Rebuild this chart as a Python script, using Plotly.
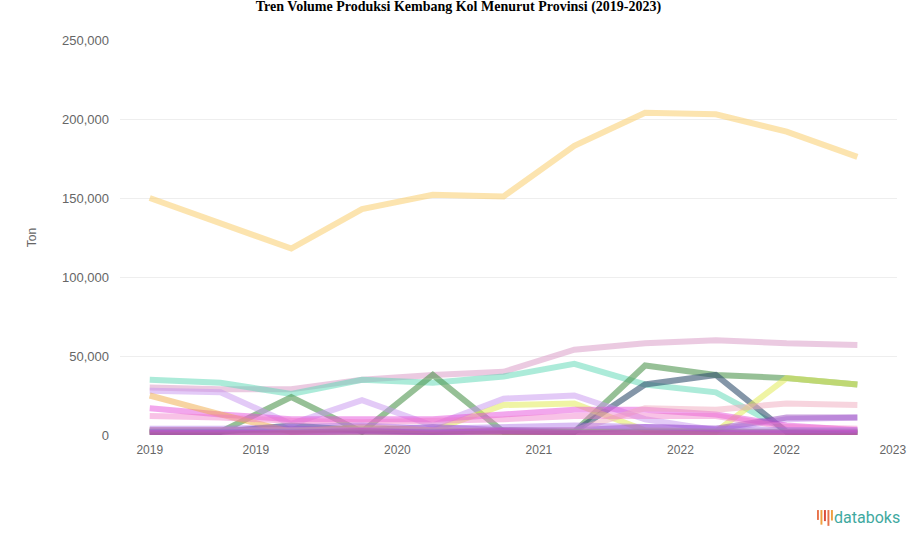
import plotly.graph_objects as go

# ---- data ----
periode = list(range(11))
tick_pos = [0, 1.5, 3.5, 5.5, 7.5, 9, 10.5]
tick_labels = ["2019", "2019", "2020", "2021", "2022", "2022", "2023"]
y_ticks = [0, 50000, 100000, 150000, 200000, 250000]

jawa_barat = [150000, 134000, 118000, 143000, 152000, 151000, 183000, 204000, 203000, 192000, 176000]
sumatera_utara = [30000, 29000, 29000, 35000, 38000, 40000, 54000, 58000, 60000, 58000, 57000]
jawa_tengah = [35000, 33000, 26000, 35000, 33000, 37000, 45000, 32000, 27000, 3000, 2000]
jawa_timur = [2000, 2000, 24000, 2000, 38000, 2000, 2000, 44000, 38000, 36000, 32000]
sumatera_barat = [2000, 2000, 6000, 3000, 2000, 3000, 2000, 32000, 38000, 2000, 1000]
bengkulu = [3000, 3000, 3000, 4000, 3000, 19000, 20000, 3000, 2000, 36000, 32000]
sulawesi_selatan = [28000, 27000, 7000, 22000, 6000, 23000, 25000, 10000, 3000, 10000, 11000]
bali = [17000, 13000, 10000, 10000, 10000, 13000, 16000, 16000, 13000, 6000, 3000]
jambi = [3000, 3000, 4000, 3000, 5000, 3000, 3000, 5000, 4000, 11000, 11000]
aceh = [25000, 13000, 2000, 5000, 3000, 2000, 2000, 2000, 2000, 2000, 2000]
ntt = [3000, 3000, 3000, 3000, 3000, 3000, 3000, 17000, 16000, 20000, 19000]
sulawesi_utara = [1000, 1000, 1000, 1000, 1000, 1000, 1000, 1000, 1000, 1000, 1000]
lampung = [2000, 2000, 2000, 2000, 2000, 2000, 2000, 2000, 2000, 2000, 2000]
sumatera_selatan = [12000, 11000, 9000, 8000, 9000, 10000, 12000, 12000, 12000, 5000, 4000]
papua = [4000, 4000, 5000, 6000, 4000, 5000, 6000, 5000, 4000, 3000, 3000]
ntb = [1500, 1500, 1500, 2500, 1500, 2500, 1500, 1500, 1500, 1500, 1500]

series = [
    ("Jawa Barat", jawa_barat, "rgba(250,205,110,0.55)"),
    ("Sumatera Utara", sumatera_utara, "rgba(215,150,195,0.5)"),
    ("Jawa Tengah", jawa_tengah, "rgba(90,215,180,0.5)"),
    ("Jawa Timur", jawa_timur, "rgba(80,150,80,0.6)"),
    ("Sumatera Barat", sumatera_barat, "rgba(50,80,110,0.6)"),
    ("Bengkulu", bengkulu, "rgba(225,235,90,0.55)"),
    ("Sulawesi Selatan", sulawesi_selatan, "rgba(200,150,240,0.5)"),
    ("Bali", bali, "rgba(230,80,220,0.5)"),
    ("Jambi", jambi, "rgba(150,70,190,0.5)"),
    ("Aceh", aceh, "rgba(240,170,70,0.5)"),
    ("Nusa Tenggara Timur", ntt, "rgba(240,170,190,0.5)"),
    ("Sulawesi Utara", sulawesi_utara, "rgba(220,50,90,0.5)"),
    ("Lampung", lampung, "rgba(110,150,180,0.5)"),
    ("Sumatera Selatan", sumatera_selatan, "rgba(240,120,200,0.45)"),
    ("Papua", papua, "rgba(170,110,230,0.45)"),
    ("Nusa Tenggara Barat", ntb, "rgba(200,60,200,0.45)"),
]

fig = go.Figure()
for name, vals, col in series:
    fig.add_trace(go.Scatter(x=periode, y=vals, name=name, mode="lines",
                             line=dict(color=col, width=6), showlegend=False))

fig.update_layout(
    width=917, height=547,
    paper_bgcolor="white", plot_bgcolor="white",
    margin=dict(l=120, r=20, t=40, b=112),
    title=dict(text="<b>Tren Volume Produksi Kembang Kol Menurut Provinsi (2019-2023)</b>",
               x=0.5, xanchor="center", y=0.998, yanchor="top",
               font=dict(family="Liberation Serif", size=14, color="black")),
    xaxis=dict(range=[-0.42, 10.56], tickmode="array", tickvals=tick_pos, ticktext=tick_labels,
               showgrid=False, zeroline=False, showline=False, ticklabelstandoff=6,
               tickfont=dict(family="Liberation Sans", size=12, color="#666")),
    yaxis=dict(range=[0, 250000], tickmode="array", tickvals=y_ticks, tickformat=",",
               showgrid=True, gridcolor="#eeeeee", zeroline=False,
               title=dict(text="Ton", font=dict(family="Liberation Sans", size=12, color="#666"), standoff=22),
               tickfont=dict(family="Liberation Sans", size=13, color="#666"), ticklabelstandoff=10),
)

# databoks logo
fig.add_annotation(text="databoks", xref="paper", yref="paper", x=1.007, y=-0.21,
                   xanchor="right", yanchor="middle", showarrow=False,
                   font=dict(family="Roboto", size=16, color="#3fa9a0"))
bars = [(0, 0.5, "#e8724a"), (1, 0.9, "#f0a040"), (2, 0.6, "#d94a3a"), (3, 1.0, "#e8724a"), (4, 0.55, "#f0a040")]
for i, h, c in bars:
    x0 = 0.897 + i * 0.0045
    fig.add_shape(type="rect", xref="paper", yref="paper", x0=x0, x1=x0 + 0.0025,
                  y0=-0.2 - 0.03 * h, y1=-0.19, fillcolor=c, line=dict(width=0))

fig.write_html("out.html", config={"displayModeBar": False},
               post_script="document.body.style.margin='0';")
